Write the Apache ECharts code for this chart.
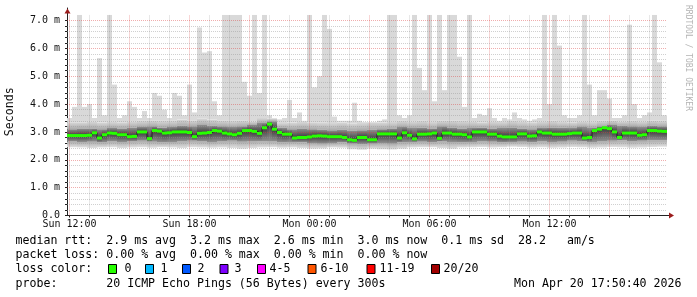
<!DOCTYPE html>
<html><head><meta charset="utf-8">
<script src="https://cdn.jsdelivr.net/npm/echarts@6/dist/echarts.min.js"></script>
<style>html,body{margin:0;padding:0;background:#fff}#c{width:697px;height:297px}</style>
</head><body><div id="c"></div>
<script>
// ---- time base (hours since Sun 00:00) ----
const START_HOUR = 11.875;
const SLOT_HOURS = 0.25;   // median / spike resolution
const BAND_HOURS = 0.5;    // smoke band resolution
const X_MAX = 42.125;
const Y_MAX = 7.45;
const Y_CLIP = 7.2;

// ---- median rtt (ms), 15-min slots ----
const median = [
 2.87,2.87,2.87,2.87,2.88,2.97,2.78,2.90,2.96,2.95,
 2.90,2.90,2.83,2.84,3.00,3.00,2.76,3.05,3.03,2.96,
 2.97,3.00,3.00,3.00,2.98,2.83,2.95,2.96,2.98,3.05,
 3.03,2.96,2.93,2.90,2.95,3.05,3.05,3.02,2.95,3.15,
 3.28,3.10,2.98,2.92,2.92,2.78,2.80,2.80,2.82,2.85,
 2.86,2.85,2.83,2.83,2.83,2.80,2.72,2.70,2.80,2.80,
 2.72,2.72,2.93,2.93,2.93,2.93,2.78,2.97,2.88,2.75,
 2.92,2.92,2.93,2.96,2.77,2.96,2.96,2.92,2.92,2.90,
 2.82,3.00,3.00,3.00,2.92,2.92,2.85,2.82,2.82,2.82,
 2.93,2.93,2.85,2.86,3.00,2.96,2.96,2.92,2.92,2.92,
 2.94,2.96,2.96,2.78,2.80,3.05,3.10,3.15,3.12,3.00,
 2.80,2.96,2.96,2.96,2.88,2.90,3.05,3.05,3.03,3.02
];
// ---- highest ping per slot (ms), clipped at chart top ----
const spike = [
 3.50,3.90,7.20,3.90,4.00,3.50,5.65,3.60,7.20,4.70,
 3.50,3.60,4.10,3.90,3.50,3.75,3.50,4.40,4.30,3.80,
 3.50,4.40,4.30,3.60,4.70,3.70,6.75,5.85,5.90,4.10,
 3.60,7.20,7.20,7.20,7.20,4.80,4.30,7.20,4.40,7.20,
 3.60,3.50,3.45,3.50,4.15,3.50,3.70,3.40,7.20,4.60,
 5.00,7.20,6.70,3.55,3.40,3.40,3.40,4.05,3.40,3.35,
 3.30,3.35,3.40,3.45,7.20,7.20,3.60,3.50,3.60,7.20,
 5.30,4.50,7.20,4.10,7.20,4.50,7.20,7.20,5.70,3.90,
 7.20,3.50,3.65,3.60,3.85,3.50,3.40,3.50,3.45,3.70,
 3.50,3.45,3.40,3.45,3.50,7.20,4.00,7.20,6.10,3.60,
 3.50,3.50,3.60,7.20,4.70,3.60,4.50,4.50,4.20,3.50,
 3.50,3.60,6.85,4.00,3.50,3.60,3.70,7.20,5.50,3.60
];
// ---- smoke bands (ms), 30-min slots ----
const smokeLo = [
 2.45,2.44,2.42,2.44,2.45,2.42,2.44,2.45,2.43,2.45,
 2.44,2.42,2.45,2.44,2.43,2.44,2.42,2.40,2.42,2.44,
 2.45,2.43,2.44,2.42,2.40,2.41,2.44,2.43,2.38,2.36,
 2.40,2.38,2.37,2.40,2.44,2.45,2.45,2.42,2.40,2.44,
 2.45,2.46,2.44,2.45,2.47,2.46,2.44,2.45,2.43,2.44,
 2.46,2.45,2.43,2.44,2.46,2.45,2.43,2.44,2.46,2.47
];
const smokeHi = [
 3.35,3.35,3.38,3.34,3.36,3.35,3.38,3.40,3.42,3.40,
 3.40,3.45,3.42,3.48,3.45,3.42,3.40,3.42,3.38,3.50,
 3.48,3.32,3.34,3.36,3.35,3.33,3.32,3.34,3.30,3.32,
 3.35,3.34,3.36,3.40,3.38,3.40,3.36,3.40,3.42,3.40,
 3.38,3.35,3.38,3.36,3.40,3.38,3.35,3.38,3.40,3.36,
 3.35,3.38,3.36,3.40,3.42,3.38,3.40,3.38,3.42,3.40
];
const coreLo = [
 2.66,2.64,2.65,2.62,2.66,2.64,2.66,2.68,2.65,2.62,
 2.64,2.66,2.68,2.66,2.64,2.66,2.68,2.65,2.66,2.67,
 2.66,2.62,2.64,2.63,2.60,2.58,2.60,2.62,2.58,2.56,
 2.58,2.60,2.58,2.62,2.64,2.65,2.62,2.66,2.64,2.62,
 2.64,2.66,2.65,2.62,2.64,2.65,2.63,2.66,2.64,2.65,
 2.68,2.66,2.64,2.66,2.68,2.70,2.66,2.68,2.70,2.70
];
const coreHi = [
 3.10,3.12,3.12,3.10,3.14,3.12,3.15,3.18,3.20,3.16,
 3.18,3.22,3.20,3.25,3.22,3.20,3.18,3.20,3.25,3.32,
 3.38,3.15,3.10,3.12,3.10,3.08,3.06,3.08,3.05,3.06,
 3.08,3.10,3.12,3.18,3.14,3.15,3.12,3.20,3.16,3.12,
 3.14,3.15,3.12,3.14,3.16,3.12,3.10,3.14,3.16,3.15,
 3.14,3.18,3.14,3.20,3.25,3.22,3.20,3.18,3.22,3.20
];

// ---- tick labels ----
const xTickHours = [12, 18, 24, 30, 36];
const xTickLabels = ['Sun 12:00', 'Sun 18:00', 'Mon 00:00', 'Mon 06:00', 'Mon 12:00'];
const yTickValues = [0, 1, 2, 3, 4, 5, 6, 7];
const yTickLabels = ['0.0', '1.0 m', '2.0 m', '3.0 m', '4.0 m', '5.0 m', '6.0 m', '7.0 m'];

// ---- legend text ----
const legendLines = [
 'median rtt:  2.9 ms avg  3.2 ms max  2.6 ms min  3.0 ms now  0.1 ms sd  28.2   am/s',
 'packet loss: 0.00 % avg  0.00 % max  0.00 % min  0.00 % now',
 'loss color:',
 'probe:       20 ICMP Echo Pings (56 Bytes) every 300s'
];
const stampText = 'Mon Apr 20 17:50:40 2026';
const lossLabels = ['0', '1', '2', '3', '4-5', '6-10', '11-19', '20/20'];
const lossColors = ['#26ff00', '#00b8ff', '#0059ff', '#7e00ff', '#ff00ff', '#ff5500', '#ff0000', '#a10000'];

// ---- styling ----
const MONO = 'DejaVu Sans Mono';
const C = {
  spike: '#d9d9d9', outerEdgeTop: '#d8d8d8', outerEdgeBottom: '#e0e0e0', outerInner: '#ababab',
  coreEdge: '#909090', coreCenter: '#3a3a3a', green: '#26ff00', medLine: '#202020',
  gridMinor: 'rgba(150,150,150,0.45)', gridMajor: 'rgba(220,60,60,0.42)', axis: '#222', arrow: '#9b1c1c'
};

// ---- build series data ----
const smokeData = median.map((m, i) => {
  const j = Math.floor(i * SLOT_HOURS / BAND_HOURS);
  const t0 = START_HOUR + i * SLOT_HOURS;
  return [t0, t0 + SLOT_HOURS, smokeLo[j], coreLo[j], m, coreHi[j], smokeHi[j], spike[i]];
});
const medLineData = median.map((m, i) => [START_HOUR + i * SLOT_HOURS, m]);
medLineData.push([START_HOUR + median.length * SLOT_HOURS, median[median.length - 1]]);
const greenData = median.map((m, i) => [START_HOUR + i * SLOT_HOURS, START_HOUR + (i + 1) * SLOT_HOURS, m]);
const X_END = START_HOUR + median.length * SLOT_HOURS;

// grid lines
const gridLines = [];
for (let h = 12; h < X_END; h += 1) {
  const major = (h % 3 === 0);
  gridLines.push([{coord: [h, 0], lineStyle: {color: major ? C.gridMajor : C.gridMinor}}, {coord: [h, Y_CLIP]}]);
}
for (let k = 1; k <= 35; k++) {
  const v = k / 5;
  const major = (k % 5 === 0);
  gridLines.push([{coord: [START_HOUR, v], lineStyle: {color: major ? C.gridMajor : C.gridMinor}}, {coord: [X_END, v]}]);
}
const xMinorTicks = []; for (let h = 12; h < X_END; h++) xMinorTicks.push(h);
const yMinorTicks = []; for (let k = 0; k <= 35; k++) yMinorTicks.push(k / 5);

function grad(top, bottom) {
  return new echarts.graphic.LinearGradient(0, 0, 0, 1, [{offset: 0, color: top}, {offset: 1, color: bottom}]);
}
function renderSmoke(params, api) {
  const t0 = api.value(0), t1 = api.value(1);
  const x0 = api.coord([t0, 0])[0], x1 = api.coord([t1, 0])[0];
  const yOf = v => api.coord([t0, v])[1];
  const lo = api.value(2), cLo = api.value(3), med = api.value(4), cHi = api.value(5), hi = api.value(6), sp = api.value(7);
  const band = (a, b, fill) => { const yt = yOf(b), yb = yOf(a); return {type: 'rect', shape: {x: x0, y: yt, width: x1 - x0, height: yb - yt}, style: {fill: fill}}; };
  const kids = [];
  if (sp > hi) kids.push(band(hi, sp, C.spike));
  kids.push(band(cHi, hi, grad(C.outerEdgeTop, C.outerInner)));
  kids.push(band(lo, cLo, grad(C.outerInner, C.outerEdgeBottom)));
  kids.push(band(med, cHi, grad(C.coreEdge, C.coreCenter)));
  kids.push(band(cLo, med, grad(C.coreCenter, C.coreEdge)));
  return {type: 'group', children: kids};
}
function renderGreen(params, api) {
  const x0 = api.coord([api.value(0), 0])[0], x1 = api.coord([api.value(1), 0])[0];
  const y = api.coord([api.value(0), api.value(2)])[1];
  return {type: 'rect', shape: {x: x0, y: y - 1.5, width: x1 - x0, height: 3}, style: {fill: C.green}};
}

const chart = echarts.init(document.getElementById('c'), null, {renderer: 'canvas'});
chart.setOption({
  animation: false,
  backgroundColor: '#ffffff',
  grid: {left: 67, right: 25, top: 8, bottom: 81.5, containLabel: false, outerBoundsMode: 'none'},
  xAxis: {
    type: 'value', min: START_HOUR, max: X_MAX,
    splitLine: {show: false},
    axisLine: {show: true, lineStyle: {color: C.axis, width: 1}},
    axisTick: {show: true, customValues: xMinorTicks, length: 2, lineStyle: {color: C.axis}},
    axisLabel: {customValues: xTickHours, formatter: v => xTickLabels[xTickHours.indexOf(v)] || '',
      fontFamily: MONO, fontSize: 10, color: '#111', margin: 4}
  },
  yAxis: {
    type: 'value', min: 0, max: Y_MAX,
    name: 'Seconds', nameLocation: 'middle', nameGap: 51, nameRotate: 90,
    nameTextStyle: {fontFamily: MONO, fontSize: 11.6, color: '#111'},
    splitLine: {show: false},
    axisLine: {show: true, lineStyle: {color: C.axis, width: 1}},
    axisTick: {show: true, customValues: yMinorTicks, length: 2, lineStyle: {color: C.axis}},
    axisLabel: {customValues: yTickValues, formatter: v => yTickLabels[yTickValues.indexOf(v)] || '',
      fontFamily: MONO, fontSize: 10, color: '#111', margin: 7}
  },
  series: [
    {type: 'custom', z: 1, renderItem: renderSmoke, data: smokeData, encode: {x: [0, 1], y: [2, 3, 4, 5, 6, 7]}, silent: true},
    {type: 'line', z: 3, data: medLineData, step: 'end', symbol: 'none', silent: true,
      lineStyle: {color: C.medLine, width: 1},
      markLine: {z: 2, silent: true, symbol: 'none', label: {show: false}, animation: false,
        lineStyle: {type: [1, 1], width: 1}, data: gridLines}},
    {type: 'custom', z: 4, renderItem: renderGreen, data: greenData, encode: {x: [0, 1], y: 2}, silent: true}
  ]
});

// decorations: arrows, legend text, watermark
const pO = chart.convertToPixel({gridIndex: 0}, [START_HOUR, 0]);
const pT = chart.convertToPixel({gridIndex: 0}, [START_HOUR, Y_MAX]);
const pR = chart.convertToPixel({gridIndex: 0}, [X_MAX, 0]);
const ax = Math.round(pO[0]) + 0.5, ay = Math.round(pO[1]) - 0.5;
const g = [];
g.push({type: 'polygon', shape: {points: [[ax, pT[1] + 0.5], [ax - 3, pT[1] + 5.5], [ax + 3, pT[1] + 5.5]]}, style: {fill: C.arrow}, z: 10});
g.push({type: 'polygon', shape: {points: [[pR[0] + 2, ay], [pR[0] - 3, ay - 3], [pR[0] - 3, ay + 3]]}, style: {fill: C.arrow}, z: 10});
const rowsY = [241, 255, 269, 283.5];
const txt = (s, x, y, align) => ({type: 'text', x: x, y: y, style: {text: s, fill: '#000', font: '11.6px ' + MONO, align: align || 'left', verticalAlign: 'middle'}, z: 10});
legendLines.forEach((s, i) => g.push(txt(s, 15.5, rowsY[i])));
g.push(txt(stampText, 681.5, rowsY[3], 'right'));
const boxX = [108, 145, 182, 219.5, 257, 307.5, 366.5, 431];
const lblX = [124.5, 160.5, 197.5, 234.5, 269.5, 320.5, 379.5, 443.5];
lossLabels.forEach((l, i) => {
  g.push({type: 'rect', shape: {x: boxX[i] + 0.5, y: 264.5, width: 8, height: 9}, style: {fill: lossColors[i], stroke: '#000', lineWidth: 1}, z: 10});
  g.push(txt(l, lblX[i], rowsY[2]));
});
g.push({type: 'text', x: 688, y: 5, rotation: -Math.PI / 2,
  style: {text: 'RRDTOOL / TOBI OETIKER', fill: '#b4b4b4', font: '8px ' + MONO, align: 'left', verticalAlign: 'middle'}, z: 10});
chart.setOption({graphic: g});
</script></body></html>
